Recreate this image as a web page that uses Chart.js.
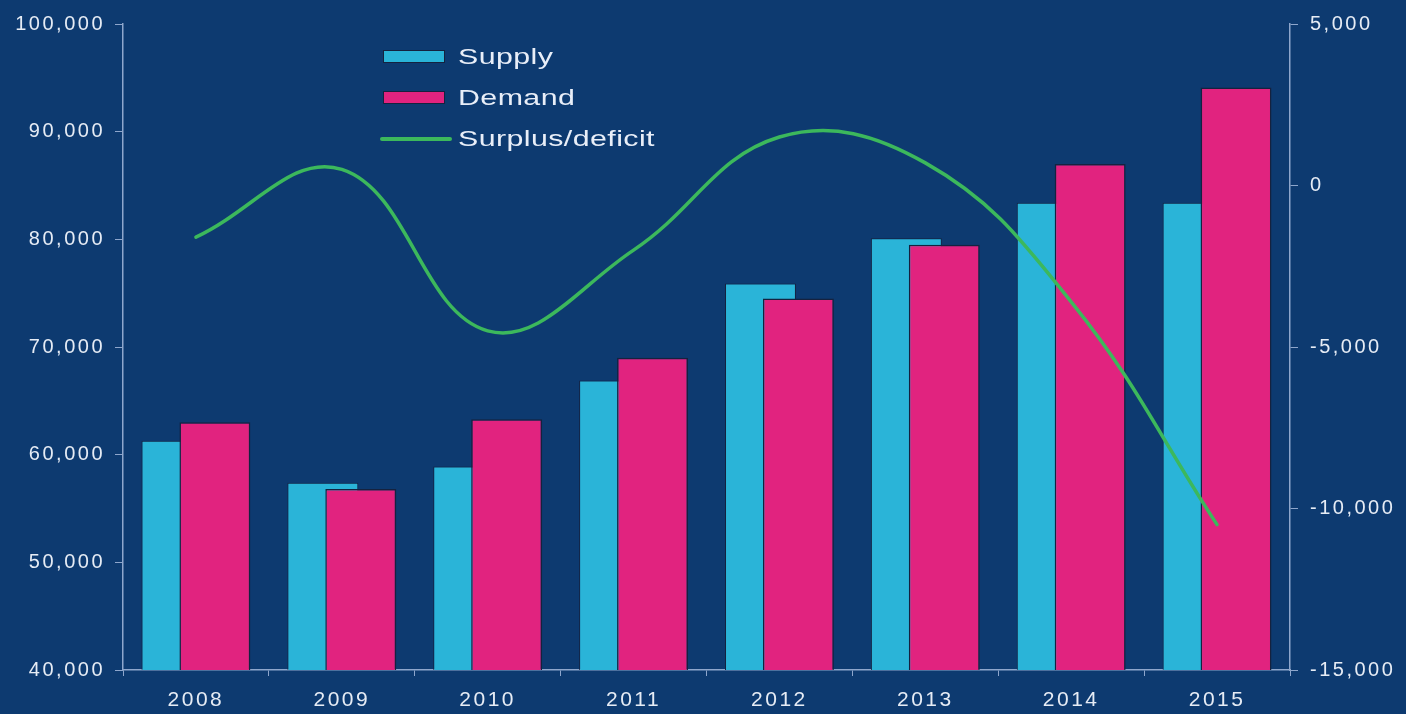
<!DOCTYPE html>
<html>
<head>
<meta charset="utf-8">
<title>Supply and demand</title>
<script src="https://cdn.jsdelivr.net/npm/chart.js@4.4.1/dist/chart.umd.min.js"></script>
<style>
  html, body { margin: 0; padding: 0; background: #0d3a70; }
  .wrap { position: relative; width: 1406px; height: 714px; }
  .legend { position: absolute; left: 380px; top: 40px; font-family: 'Liberation Sans', Arial, sans-serif;
            font-size: 22px; color: #e8eef8; }
  .legend .row { position: absolute; left: 0; height: 24px; line-height: 24px; white-space: nowrap; }
  .legend .swatch { position: absolute; left: 3px; top: 5px; width: 62px; height: 13px; box-sizing: border-box;
                    border: 1px solid #15223f; }
  .legend .stroke { position: absolute; left: 0; top: 10px; width: 72px; height: 4px; border-radius: 2px; }
  .legend .label { position: absolute; left: 78px; top: 0; transform: scaleX(1.38); transform-origin: left center;
                   letter-spacing: 0.3px; }
</style>
</head>
<body>
<div class="wrap">
  <canvas id="chart" width="1406" height="714"></canvas>
  <div class="legend" id="legend"></div>
</div>
<script>
// --- Datos ---
const years   = ['2008', '2009', '2010', '2011', '2012', '2013', '2014', '2015'];
const supply  = [61300, 57400, 58900, 66900, 75900, 80100, 83400, 83400];
const demand  = [63000, 56800, 63300, 69000, 74500, 79500, 87000, 94100];
const surplus = [-1600, 500, -4500, -2000, 1500, 700, -3600, -10500];

// --- Colores ---
const bg      = '#0d3a70';
const cyan    = '#2ab4d8';
const magenta = '#e1237f';
const green   = '#3cb85c';
const axis    = '#8ea6cc';
const text    = '#e6ecf5';
const outline = '#15223f';

const font = { family: "'Liberation Sans', Arial, sans-serif", size: 20 };
const fmt = (v) => Number(v).toLocaleString('en-US');

// espaciado de letras en el canvas (las etiquetas del original son anchas)
const spacing = {
  id: 'spacing',
  beforeUpdate(chart) { chart.ctx.letterSpacing = '2.5px'; },
  beforeDraw(chart) {
    const ctx = chart.ctx;
    ctx.letterSpacing = '2.5px';
    ctx.save();
    ctx.fillStyle = bg;
    ctx.fillRect(0, 0, chart.width, chart.height);
    ctx.restore();
  }
};

// Demand encima de Supply, y la línea encima de todo (recortado al área)
const drawOrder = {
  id: 'drawOrder',
  beforeDatasetDraw() { return false; },
  afterDatasetsDraw(chart) {
    const { ctx, chartArea: a } = chart;
    ctx.save();
    ctx.beginPath();
    ctx.rect(a.left - 4, a.top - 4, a.right - a.left + 8, a.bottom - a.top + 4);
    ctx.clip();
    [0, 1, 2].forEach(i => chart.getDatasetMeta(i).controller.draw());
    ctx.restore();
  }
};

new Chart(document.getElementById('chart'), {
  type: 'bar',
  data: {
    labels: years,
    datasets: [
      {
        label: 'Supply', data: supply, yAxisID: 'y',
        backgroundColor: cyan, borderColor: outline, borderWidth: 1,
        categoryPercentage: 0.52, barPercentage: 1.87
      },
      {
        label: 'Demand', data: demand, yAxisID: 'y',
        backgroundColor: magenta, borderColor: outline, borderWidth: 1.5,
        categoryPercentage: 0.52, barPercentage: 1.87
      },
      {
        type: 'line', label: 'Surplus/deficit', data: surplus, yAxisID: 'y2',
        borderColor: green, borderWidth: 3.5, tension: 0.4, pointRadius: 0,
        borderCapStyle: 'round'
      }
    ]
  },
  options: {
    responsive: false,
    animation: false,
    layout: { padding: { top: 22, right: 0, bottom: 0, left: 0 } },
    plugins: { legend: { display: false }, tooltip: { enabled: false } },
    scales: {
      x: {
        offset: true,
        afterFit(scale) { scale.height = 44; },
        grid: { drawOnChartArea: false, drawTicks: true, tickLength: 6, color: axis, offset: true },
        border: { color: axis, width: 1.5 },
        ticks: { color: text, font: { ...font, size: 21 }, padding: 12 }
      },
      y: {
        position: 'left',
        min: 40000, max: 100000,
        afterFit(scale) { scale.width = 123; },
        grid: { drawOnChartArea: false, tickLength: 8, color: axis },
        border: { color: axis, width: 1.5 },
        ticks: { stepSize: 10000, color: text, font, padding: 10, callback: fmt }
      },
      y2: {
        position: 'right',
        min: -15000, max: 5000,
        afterFit(scale) { scale.width = 116; },
        grid: { drawOnChartArea: false, tickLength: 8, color: axis },
        border: { color: axis, width: 1.5 },
        ticks: { stepSize: 5000, color: text, font, padding: 12, callback: fmt }
      }
    }
  },
  plugins: [spacing, drawOrder]
});

// --- Leyenda dentro del gráfico ---
const legendItems = [
  { label: 'Supply', color: cyan, kind: 'box', top: 5 },
  { label: 'Demand', color: magenta, kind: 'box', top: 46 },
  { label: 'Surplus/deficit', color: green, kind: 'line', top: 87 }
];
const legendEl = document.getElementById('legend');
legendItems.forEach(item => {
  const row = document.createElement('div');
  row.className = 'row';
  row.style.top = item.top + 'px';
  const mark = document.createElement('div');
  mark.className = item.kind === 'box' ? 'swatch' : 'stroke';
  mark.style.background = item.color;
  const lbl = document.createElement('div');
  lbl.className = 'label';
  lbl.textContent = item.label;
  row.appendChild(mark);
  row.appendChild(lbl);
  legendEl.appendChild(row);
});
</script>
</body>
</html>
